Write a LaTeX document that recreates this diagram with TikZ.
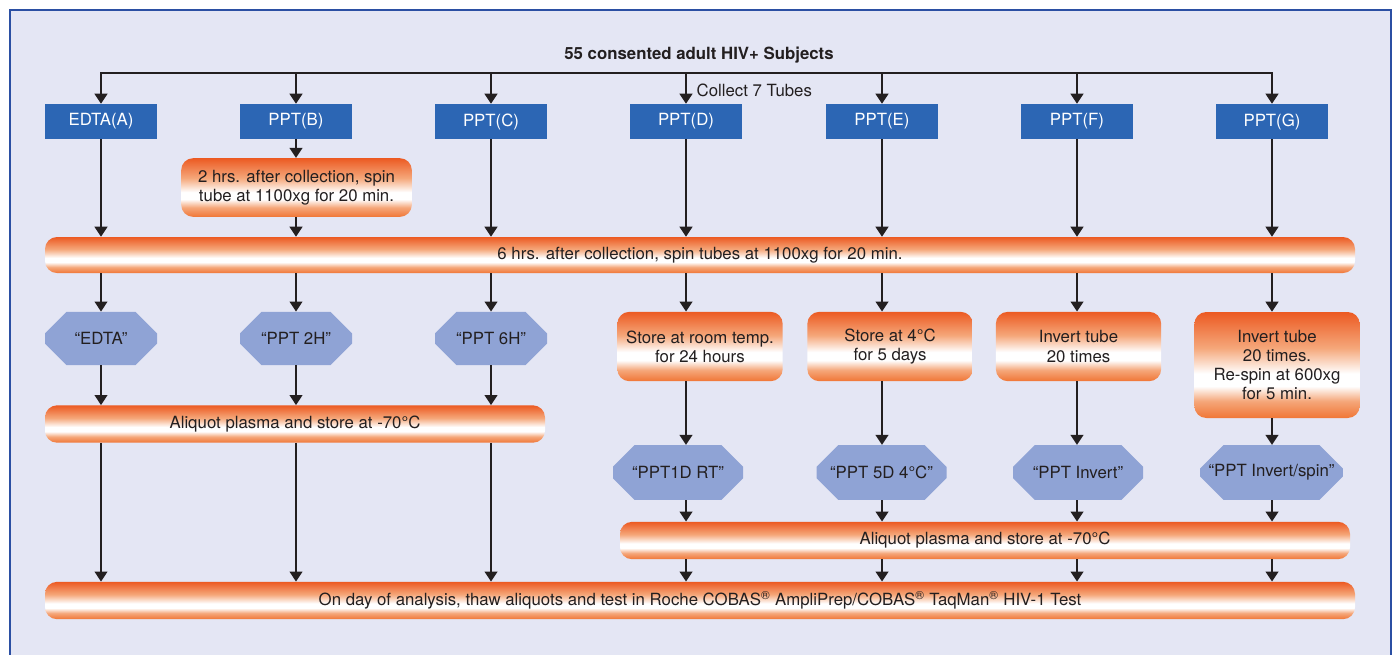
\documentclass[tikz,border=0pt]{standalone}
\usepackage{fontspec}
\setmainfont{TeX Gyre Heros}
\usetikzlibrary{arrows.meta,shapes.misc}
\definecolor{bgc}{HTML}{E4E6F4}
\definecolor{framec}{HTML}{2B4FA3}
\definecolor{tubec}{HTML}{2C66B4}
\definecolor{octc}{HTML}{8FA3D5}
\definecolor{ord}{HTML}{EC5A22}
\definecolor{orb}{HTML}{F07636}
\definecolor{orl}{HTML}{F5A77A}
\definecolor{ink}{HTML}{231F20}
\pgfdeclareverticalshading{tubeshade}{100bp}{color(0bp)=(orb); color(25bp)=(orb); color(33bp)=(orl); color(40bp)=(white); color(46bp)=(white); color(58bp)=(orl); color(75bp)=(ord); color(100bp)=(ord)}
\begin{document}
\begin{tikzpicture}[x=0.75pt,y=-0.75pt,font=\fontsize{12.6}{14.4}\selectfont,text=ink,
  tube/.style={fill=tubec,text=white,minimum width=84pt,minimum height=26.25pt,inner sep=0pt},
  bar/.style={shade,shading=tubeshade,rounded corners=9pt,minimum height=28pt,inner sep=0pt},
  stepbox/.style={shade,shading=tubeshade,rounded corners=9pt,align=center,inner sep=0pt,minimum width=124pt,minimum height=52pt},
  octa/.style={chamfered rectangle,chamfered rectangle xsep=21pt,chamfered rectangle ysep=11.5pt,fill=octc,inner sep=0pt,minimum width=97.5pt,minimum height=41pt},
  arr/.style={draw=ink,line width=1.5pt,-{Triangle[width=9.5pt,length=7.5pt]}}]
\useasboundingbox (0,0) rectangle (1398,654);
\clip (0,0) rectangle (1398,654);
\fill[white] (0,0) rectangle (1398,654);
\draw[framec,fill=bgc,line width=1.5pt] (10,10) rectangle (1391,690);
\node[font=\fontsize{12.6}{14}\selectfont\bfseries] (title) at (699,55) {55 consented adult HIV+ Subjects};
\coordinate (top) at (699,73);
\node[tube] (tA) at (101,121.5) {EDTA(A)};
\node[tube] (tB) at (296,121.5) {PPT(B)};
\node[tube] (tC) at (491,121.5) {PPT(C)};
\node[tube] (tD) at (686,121.5) {PPT(D)};
\node[tube] (tE) at (882,121.5) {PPT(E)};
\node[tube] (tF) at (1077,121.5) {PPT(F)};
\node[tube] (tG) at (1272,121.5) {PPT(G)};
\node[anchor=west] (collect) at (692,90) {Collect 7 Tubes};
\node[stepbox,minimum width=173pt,minimum height=44pt] (spinB) at (296.5,187.5) {2 hrs. after collection, spin\\tube at 1100xg for 20 min.};
\node[bar,minimum width=982.5pt,minimum height=27pt] (spinall) at (700,255) {6 hrs. after collection, spin tubes at 1100xg for 20 min.};
\node[octa,minimum width=84pt,minimum height=40pt] (oA) at (101,338.5) {“EDTA”};
\node[octa,minimum width=84pt,minimum height=40pt] (oB) at (296,338.5) {“PPT 2H”};
\node[octa,minimum width=84pt,minimum height=40pt] (oC) at (491,338.5) {“PPT 6H”};
\node[bar,minimum width=375pt] (aliqL) at (295,424) {Aliquot plasma and store at -70°C};
\node[stepbox] (sD) at (700,346.5) {Store at room temp.\\for 24 hours};
\node[stepbox] (sE) at (890,346.5) {Store at 4°C\\for 5 days};
\node[stepbox] (sF) at (1078.5,346.5) {Invert tube\\20 times};
\node[stepbox,minimum height=79.5pt] (sG) at (1277,365) {Invert tube\\20 times.\\Re-spin at 600xg\\for 5 min.};
\node[octa] (oD) at (678,472.5) {“PPT1D RT”};
\node[octa] (oE) at (881.5,472.5) {“PPT 5D 4°C”};
\node[octa] (oF) at (1078,472.5) {“PPT Invert”};
\node[octa,minimum width=107pt] (oG) at (1271.5,472.5) {“PPT Invert/spin”};
\node[bar,minimum width=547.5pt] (aliqR) at (985,540.5) {Aliquot plasma and store at -70°C};
\node[bar,minimum width=982.5pt] (thaw) at (700,600.5) {On day of analysis, thaw aliquots and test in Roche COBAS\textsuperscript{®} AmpliPrep/COBAS\textsuperscript{®} TaqMan\textsuperscript{®} HIV-1 Test};
\draw[ink,line width=1.5pt,line cap=rect] (tA |- top) -- (tG |- top);
\foreach \t in {tA,tB,tC,tD,tE,tF,tG}
  \draw[arr] (\t |- top) -- (\t.north);
\foreach \t in {tA,tC,tD,tE,tF,tG}
  \draw[arr] (\t.south) -- (\t |- spinall.north);
\draw[arr] (tB.south) -- (tB |- spinB.north);
\draw[arr] (tB |- spinB.south) -- (tB |- spinall.north);
\foreach \t/\o in {tA/oA,tB/oB,tC/oC}{
  \draw[arr] (\t |- spinall.south) -- (\t |- \o.north);
  \draw[arr] (\t |- \o.south) -- (\t |- aliqL.north);
  \draw[arr] (\t |- aliqL.south) -- (\t |- thaw.north);}
\foreach \t/\s/\o in {tD/sD/oD,tE/sE/oE,tF/sF/oF,tG/sG/oG}{
  \draw[arr] (\t |- spinall.south) -- (\t |- \s.north);
  \draw[arr] (\t |- \s.south) -- (\t |- \o.north);
  \draw[arr] (\t |- \o.south) -- (\t |- aliqR.north);
  \draw[arr] (\t |- aliqR.south) -- (\t |- thaw.north);}
\end{tikzpicture}
\end{document}
